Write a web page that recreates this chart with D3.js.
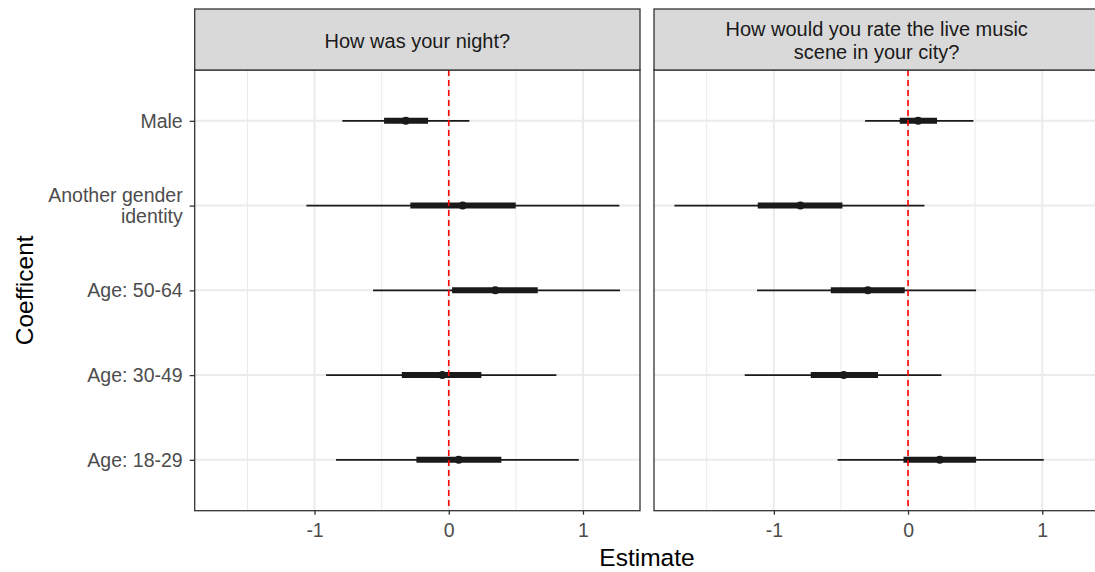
<!DOCTYPE html>
<html>
<head>
<meta charset="utf-8">
<script src="https://cdn.jsdelivr.net/npm/d3@7"></script>
<style>
  html, body { margin: 0; padding: 0; background: #fff; }
  svg { display: block; font-family: "Liberation Sans", Arial, Helvetica, sans-serif; }
</style>
</head>
<body>
<svg id="chart" width="1095" height="572"></svg>
<script>
// Coefficient plot: two survey questions, five predictors each.
const coefficients = ["Male", "Another gender identity", "Age: 50-64", "Age: 30-49", "Age: 18-29"];
const questions = ["How was your night?", "How would you rate the live music scene in your city?"];

// Point estimates per question (same order as coefficients)
const estNight = [-0.32, 0.104, 0.347, -0.048, 0.074];
const estMusic = [0.075, -0.802, -0.30, -0.479, 0.236];

// Inner (thick) interval
const innerLoNight = [-0.482, -0.286, 0.025, -0.35, -0.241];
const innerHiNight = [-0.154, 0.499, 0.663, 0.243, 0.392];
const innerLoMusic = [-0.062, -1.12, -0.576, -0.725, -0.034];
const innerHiMusic = [0.216, -0.489, -0.025, -0.224, 0.507];

// Outer (thin) interval
const outerLoNight = [-0.793, -1.061, -0.564, -0.914, -0.84];
const outerHiNight = [0.154, 1.271, 1.276, 0.802, 0.969];
const outerLoMusic = [-0.32, -1.741, -1.125, -1.217, -0.525];
const outerHiMusic = [0.487, 0.122, 0.507, 0.249, 1.011];

const xTicks = [-1, 0, 1];
const xMinor = [-1.5, -0.5, 0.5];
const xDomain = [-1.893, 1.425];

const panels = [
  { title: ["How was your night?"], est: estNight, iLo: innerLoNight, iHi: innerHiNight, oLo: outerLoNight, oHi: outerHiNight },
  { title: ["How would you rate the live music", "scene in your city?"], est: estMusic, iLo: innerLoMusic, iHi: innerHiMusic, oLo: outerLoMusic, oHi: outerHiMusic }
];

const svg = d3.select("#chart");
const panelW = 445.3;
const panelX = [194.7, 654.0];
const stripTop = 9, stripBottom = 70, panelBottom = 510.7;
const tickFont = 19.5;

const y = d3.scalePoint().domain(coefficients).range([stripBottom, panelBottom]).padding(0.6);

panels.forEach((p, pi) => {
  const x0 = panelX[pi];
  const x = d3.scaleLinear().domain(xDomain).range([x0, x0 + panelW]);
  const g = svg.append("g");

  // minor grid
  g.selectAll(".minor").data(xMinor).join("line")
    .attr("x1", d => x(d)).attr("x2", d => x(d))
    .attr("y1", stripBottom).attr("y2", panelBottom)
    .attr("stroke", "#ebebeb").attr("stroke-width", 1);
  // major grid
  g.selectAll(".major").data(xTicks).join("line")
    .attr("x1", d => x(d)).attr("x2", d => x(d))
    .attr("y1", stripBottom).attr("y2", panelBottom)
    .attr("stroke", "#ebebeb").attr("stroke-width", 2);
  g.selectAll(".hgrid").data(coefficients).join("line")
    .attr("x1", x0).attr("x2", x0 + panelW)
    .attr("y1", d => y(d)).attr("y2", d => y(d))
    .attr("stroke", "#ebebeb").attr("stroke-width", 2);

  const rows = coefficients.map((c, i) => ({ c, est: p.est[i], iLo: p.iLo[i], iHi: p.iHi[i], oLo: p.oLo[i], oHi: p.oHi[i] }));

  // outer intervals
  g.selectAll(".outer").data(rows).join("line")
    .attr("x1", d => x(d.oLo)).attr("x2", d => x(d.oHi))
    .attr("y1", d => y(d.c)).attr("y2", d => y(d.c))
    .attr("stroke", "#1a1a1a").attr("stroke-width", 1.9);
  // inner intervals
  g.selectAll(".inner").data(rows).join("line")
    .attr("x1", d => x(d.iLo)).attr("x2", d => x(d.iHi))
    .attr("y1", d => y(d.c)).attr("y2", d => y(d.c))
    .attr("stroke", "#1a1a1a").attr("stroke-width", 6);

  // zero reference line
  g.append("line")
    .attr("x1", x(0)).attr("x2", x(0))
    .attr("y1", stripBottom).attr("y2", panelBottom)
    .attr("stroke", "#ff0000").attr("stroke-width", 1.6)
    .attr("stroke-dasharray", "6,4");

  // points
  g.selectAll(".pt").data(rows).join("circle")
    .attr("cx", d => x(d.est)).attr("cy", d => y(d.c))
    .attr("r", 4).attr("fill", "#1a1a1a");

  // panel border
  g.append("rect")
    .attr("x", x0).attr("y", stripBottom)
    .attr("width", panelW).attr("height", panelBottom - stripBottom)
    .attr("fill", "none").attr("stroke", "#333333").attr("stroke-width", 1.3);

  // strip
  g.append("rect")
    .attr("x", x0).attr("y", stripTop)
    .attr("width", panelW).attr("height", stripBottom - stripTop)
    .attr("fill", "#d9d9d9").attr("stroke", "#333333").attr("stroke-width", 1.3);
  const lh = 22.4;
  const midY = (stripTop + stripBottom) / 2 + 1;
  p.title.forEach((t, ti) => {
    g.append("text")
      .attr("x", x0 + panelW / 2)
      .attr("y", midY + (ti - (p.title.length - 1) / 2) * lh)
      .attr("dy", "0.35em")
      .attr("text-anchor", "middle")
      .attr("fill", "#1a1a1a")
      .attr("font-size", 20)
      .text(t);
  });

  // x axis
  const xAxis = g.append("g")
    .attr("transform", `translate(0,${panelBottom})`)
    .call(d3.axisBottom(x).tickValues(xTicks).tickSize(4).tickPadding(8.5).tickFormat(d => String(d)));
  xAxis.select(".domain").remove();
  xAxis.selectAll(".tick line").attr("stroke", "#333333").attr("stroke-width", 1.3);
  xAxis.selectAll(".tick text").attr("fill", "#4d4d4d").attr("font-size", tickFont)
    .attr("font-family", "Liberation Sans, Arial, sans-serif");
});

// y axis on the left panel
const yAxis = svg.append("g")
  .attr("transform", `translate(${panelX[0]},0)`)
  .call(d3.axisLeft(y).tickSize(5).tickPadding(4).tickFormat(""));
yAxis.select(".domain").remove();
yAxis.selectAll(".tick line").attr("stroke", "#333333").attr("stroke-width", 1.3);

const yLabels = {
  "Male": ["Male"],
  "Another gender identity": ["Another gender", "identity"],
  "Age: 50-64": ["Age: 50-64"],
  "Age: 30-49": ["Age: 30-49"],
  "Age: 18-29": ["Age: 18-29"]
};
coefficients.forEach(c => {
  const lines = yLabels[c];
  lines.forEach((t, i) => {
    svg.append("text")
      .attr("x", panelX[0] - 12)
      .attr("y", y(c) + (i - (lines.length - 1) / 2) * 21.3)
      .attr("dy", "0.35em")
      .attr("text-anchor", "end")
      .attr("fill", "#4d4d4d")
      .attr("font-size", tickFont)
      .text(t);
  });
});

// axis titles
svg.append("text")
  .attr("x", (panelX[0] + panelX[1] + panelW) / 2)
  .attr("y", 557)
  .attr("dy", "0.35em")
  .attr("text-anchor", "middle")
  .attr("fill", "#000")
  .attr("font-size", 24.5)
  .text("Estimate");

svg.append("text")
  .attr("transform", `translate(24,${(stripBottom + panelBottom) / 2}) rotate(-90)`)
  .attr("dy", "0.35em")
  .attr("text-anchor", "middle")
  .attr("fill", "#000")
  .attr("font-size", 24.5)
  .text("Coefficent");
</script>
</body>
</html>
